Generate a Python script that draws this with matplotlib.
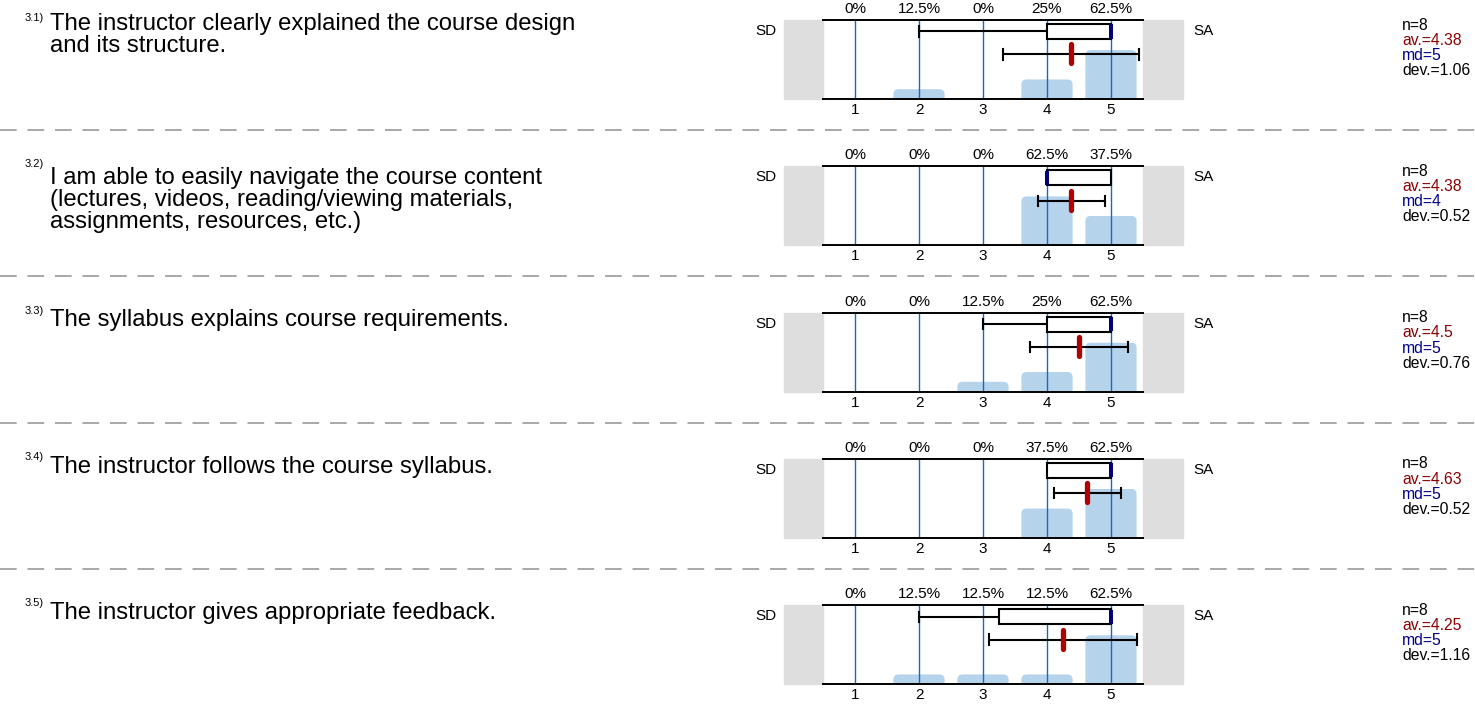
import matplotlib
matplotlib.use("Agg")
import matplotlib.pyplot as plt
from matplotlib.patches import Rectangle, FancyBboxPatch
from matplotlib.lines import Line2D

plt.rcParams["font.family"] = ["Liberation Sans", "DejaVu Sans"]

W, H = 1475, 704

labels = ["3.1)", "3.2)", "3.3)", "3.4)", "3.5)"]
questions = [
    "The instructor clearly explained the course design\nand its structure.",
    "I am able to easily navigate the course content\n(lectures, videos, reading/viewing materials,\nassignments, resources, etc.)",
    "The syllabus explains course requirements.",
    "The instructor follows the course syllabus.",
    "The instructor gives appropriate feedback.",
]
scale = [1, 2, 3, 4, 5]
pcts = [
    [0, 12.5, 0, 25, 62.5],
    [0, 0, 0, 62.5, 37.5],
    [0, 0, 12.5, 25, 62.5],
    [0, 0, 0, 37.5, 62.5],
    [0, 12.5, 12.5, 12.5, 62.5],
]
n_resp = [8, 8, 8, 8, 8]
means = [4.38, 4.38, 4.5, 4.63, 4.25]
medians = [5, 4, 5, 5, 5]
devs = [1.06, 0.52, 0.76, 0.52, 1.16]
q1 = [4, 4, 4, 4, 3.25]
q3 = [5, 5, 5, 5, 5]
wlo = [2, 4, 3, 4, 2]
whi = [5, 5, 5, 5, 5]

fig = plt.figure(figsize=(W / 100, H / 100), dpi=100)


def fx(x):
    return x / W


def fy(y):
    return 1 - y / H


bar_col = "#b5d3ea"
grid_col = "#1a66c4"
row_step = 146.3
# vertical position of question text relative to the row's top line
text_off = [-7, 1, 7, 8, 8]

for i in range(5):
    top = 20 + i * row_step
    ax = fig.add_axes([fx(823), fy(top + 79), 320 / W, 79 / H])
    ax.set_xlim(0.5, 5.5)
    ax.set_ylim(0, 1)
    for s in ["left", "right"]:
        ax.spines[s].set_visible(False)
    for s in ["top", "bottom"]:
        ax.spines[s].set_linewidth(1.4)
    ax.set_yticks([])
    ax.set_xticks(scale)
    ax.set_xticklabels([str(v) for v in scale], fontsize=11)
    ax.tick_params(axis="x", length=0, pad=3)

    # grey end boxes
    ax.add_patch(Rectangle((0.5 - 39 / 64, 0), 39 / 64, 1, color="#dedede",
                           clip_on=False, zorder=0))
    ax.add_patch(Rectangle((5.5, 0), 40 / 64, 1, color="#dedede",
                           clip_on=False, zorder=0))

    # distribution bars with rounded tops
    for x, p in zip(scale, pcts[i]):
        if p <= 0:
            continue
        h = p / 100 * 0.99
        ax.add_patch(FancyBboxPatch((x - 0.4, -0.1), 0.8, h + 0.1,
                                    boxstyle="round,pad=0,rounding_size=0.08",
                                    mutation_aspect=64 / 79,
                                    facecolor=bar_col, edgecolor="none",
                                    zorder=1))

    for x in scale:
        ax.axvline(x, color=grid_col, lw=1, zorder=2)

    # percent labels on top
    for x, p in zip(scale, pcts[i]):
        ax.text(x, 1.05, f"{p:g}%", ha="center", va="bottom", fontsize=11,
                transform=ax.get_xaxis_transform())

    # box plot
    yc = 0.855
    ax.plot([wlo[i], q1[i]], [yc, yc], color="black", lw=1.5, zorder=3)
    if wlo[i] < q1[i]:
        ax.plot([wlo[i], wlo[i]], [yc - 0.065, yc + 0.065], color="black", lw=1.5, zorder=3)
    ax.add_patch(Rectangle((q1[i], 0.76), q3[i] - q1[i], 0.19, facecolor="white",
                           edgecolor="black", lw=1.5, zorder=3))
    ax.add_patch(Rectangle((medians[i] - 0.03, 0.765), 0.06, 0.18, facecolor="#00007a",
                           edgecolor="none", zorder=4))

    # mean and deviation
    ym = 0.565
    lo, hi = means[i] - devs[i], means[i] + devs[i]
    ax.plot([lo, hi], [ym, ym], color="black", lw=1.5, zorder=3)
    for e in (lo, hi):
        ax.plot([e, e], [ym - 0.065, ym + 0.065], color="black", lw=1.5, zorder=3)
    ax.plot([means[i], means[i]], [0.45, 0.69], color="#b00000", lw=3.8,
            solid_capstyle="round", zorder=5)

    # texts
    fig.text(fx(25), fy(top - 7), labels[i], fontsize=8, va="top")
    fig.text(fx(50), fy(top + text_off[i]), questions[i], fontsize=17.2,
             va="center" if "\n" not in questions[i] else "top", linespacing=1.0)
    fig.text(fx(755), fy(top + 11), "SD", fontsize=11, va="center")
    fig.text(fx(1193), fy(top + 11), "SA", fontsize=11, va="center")
    stats = [(f"n={n_resp[i]}", "black"), (f"av.={means[i]:g}", "#8b0000"),
             (f"md={medians[i]}", "#00008b"), (f"dev.={devs[i]:.2f}", "black")]
    for k, (t, c) in enumerate(stats):
        fig.text(fx(1402), fy(top + 5 + k * 15.2), t, fontsize=11.3, color=c, va="center")

    if i < 4:
        ysep = fy(top + 110)
        fig.add_artist(Line2D([0, 1], [ysep, ysep], color="#999999", lw=1.2,
                              linestyle=(0, (10, 6.5))))

fig.savefig("out.png", dpi=100)
